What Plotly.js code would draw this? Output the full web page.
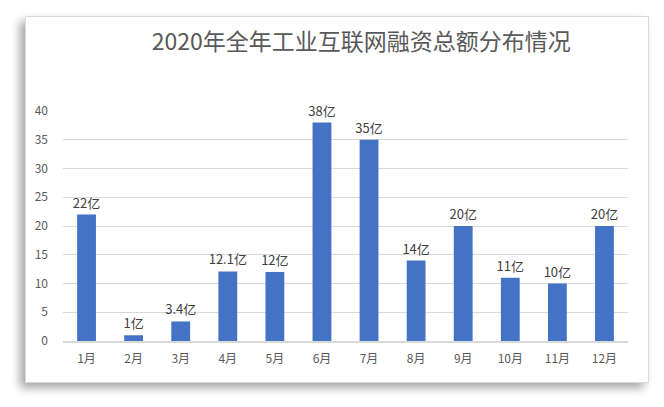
<!DOCTYPE html>
<html><head><meta charset="utf-8">
<script src="https://cdn.plot.ly/plotly-3.0.1.min.js"></script>
<style>
html,body{margin:0;padding:0;background:#fff;width:664px;height:407px;overflow:hidden;}
#card{position:absolute;left:25px;top:16px;width:622px;height:365px;background:#fff;border:1px solid #d9d9d9;box-shadow:-5px 5px 9px rgba(0,0,0,0.35);}
#chart{position:absolute;left:0;top:0;width:664px;height:407px;}
</style></head>
<body>
<div id="card"></div>
<div id="chart"></div>
<script>
const months = ['1月','2月','3月','4月','5月','6月','7月','8月','9月','10月','11月','12月'];
const amounts = [22, 1, 3.4, 12.1, 12, 38, 35, 14, 20, 11, 10, 20];
const labels = amounts.map(v => v + '亿');
const titleText = '2020年全年工业互联网融资总额分布情况';

const font = '"Noto Sans CJK SC", "Noto Sans", sans-serif';

Plotly.newPlot('chart', [{
  type: 'bar',
  x: months,
  y: amounts,
  text: labels,
  texttemplate: '%{text}',
  textposition: 'outside',
  cliponaxis: false,
  constraintext: 'none',
  textfont: {family: font, size: 13, color: '#404040'},
  marker: {color: '#4472C4'},
  hoverinfo: 'none'
}], {
  width: 664, height: 407,
  paper_bgcolor: 'rgba(0,0,0,0)',
  plot_bgcolor: 'rgba(0,0,0,0)',
  margin: {l: 63, r: 36, t: 111, b: 66},
  bargap: 0.6,
  showlegend: false,
  title: {text: titleText, x: 0.544, xanchor: 'center', xref: 'container', y: 0.897, yanchor: 'middle', yref: 'container',
          font: {family: font, size: 23, color: '#595959'}},
  xaxis: {type: 'category', showgrid: false, showline: true, linecolor: '#d9d9d9', linewidth: 1.5,
          ticks: '', tickfont: {family: font, size: 12, color: '#595959'}, ticklabelstandoff: 6},
  yaxis: {range: [0, 40], dtick: 5, showgrid: true, gridcolor: '#d9d9d9', gridwidth: 1, zeroline: false,
          showline: false, ticks: '', tickfont: {family: font, size: 12, color: '#595959'}, ticklabelstandoff: 14}
}, {staticPlot: true});
</script>
</body></html>
